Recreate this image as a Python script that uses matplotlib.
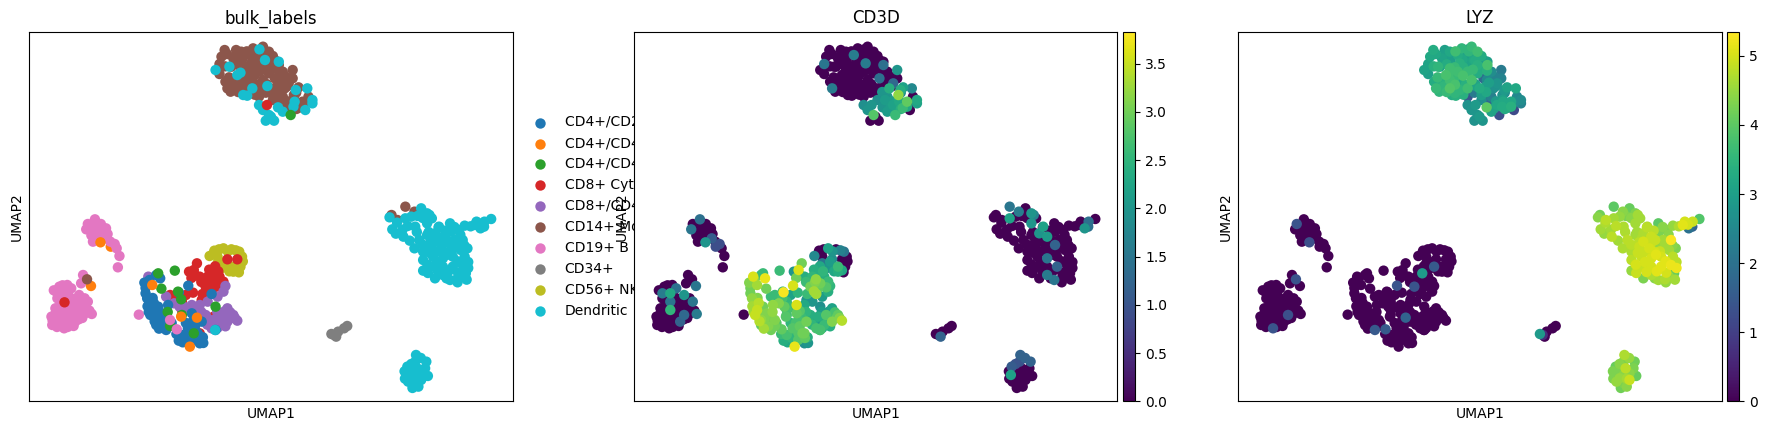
import matplotlib
matplotlib.use("Agg")
import matplotlib.pyplot as plt
import numpy as np
from matplotlib.colors import Normalize

categories = ["CD4+/CD25 T Reg", "CD4+/CD45RA+/CD25- Naive T", "CD4+/CD45RO+ Memory",
              "CD8+ Cytotoxic T", "CD8+/CD45RA+ Naive Cytotoxic", "CD14+ Monocyte",
              "CD19+ B", "CD34+", "CD56+ NK", "Dendritic"]
colors = ["#1f77b4", "#ff7f0e", "#2ca02c", "#d62728", "#9467bd",
          "#8c564b", "#e377c2", "#7f7f7f", "#bcbd22", "#17becf"]
CD3D_MAX = 3.83
LYZ_MAX = 5.35

# Values are read from the picture; UMAP units are relative (no ticks in the source).
under_x = [20.6]
under_y = [46.4]
under_cd3d = [0.9]
under_lyz = [0]

mono_x = [49.4,48.6,48.1,48.1,49.6,50.1,50.9,52.3,53.6,51.6,
          53.8,51.1,53.6,55.6,56.6,59.1,57.6,60.6,61.6,56.1,
          58.6,60.6,63.1,64.1,66.6,66.6,65.6,55.6,58.1,60.6,
          62.1,53.6,51.6,56.1,59.1,62.6,53.6,56.1,58.1,61.1,
          64.6,68.1,58.1,61.6,64.1,61.6,66.9,70.6,69.1,69.1,
          64.8]
mono_y = [105.4,103.4,101.2,98.2,95.9,93.9,92.9,105.4,104.9,102.9,
          102.4,100.4,99.9,103.9,105.9,106.4,103.9,104.9,103.6,101.4,
          101.4,100.9,100.9,98.9,99.4,96.9,95.4,98.9,98.9,98.4,
          96.9,96.4,95.9,96.4,96.4,94.4,93.9,93.4,93.9,93.9,
          93.9,94.2,91.4,91.9,91.4,90.4,91.9,91.4,89.9,88.4,
          87.9]
mono_cd3d = [0,0,1.5,0,0,1.6,0,0,0,0,
             0,0,0,1.6,0,0,0,0,0,0,
             1.6,0,1.4,0,2.0,0,1.3,0,0,0,
             1.4,0,0,0,0,0,0,0,0,0,
             2.4,2.2,0,0,2.0,1.9,3.2,0,2.9,2.3,
             2.1]
mono_lyz = [3.3,3.2,3.1,3.0,3.3,3.6,3.5,3.0,3.2,3.1,
            3.0,3.1,3.7,3.3,3.5,3.6,3.0,3.7,3.3,3.4,
            3.1,3.4,3.8,2.6,2.2,2.4,2.8,3.7,3.6,3.3,
            1.8,3.7,3.4,3.2,3.8,3.0,3.9,3.5,3.7,3.3,
            2.6,3.1,1.4,3.0,2.3,2.6,2.7,2.5,3.2,3.4,
            3.0]

mono2_x = [50.0,49.5,50.5,52.0,52.8,53.0,54.8,55.0,56.8,57.0,
           58.4,59.8,60.0,62.3,63.0,64.8,65.2,54.8,56.9,59.4,
           61.8,63.5,52.0,52.8,54.9,57.6,60.0,62.8,65.3,67.5,
           54.9,57.0,59.8,63.0,63.5,67.0,68.0,70.0,62.0,65.5,
           67.5]
mono2_y = [104.2,100.5,97.2,103.5,101.1,97.6,100.2,105.0,102.6,100.2,
           105.0,103.2,102.3,102.2,99.2,97.4,94.5,97.2,97.7,99.5,
           100.0,95.6,94.5,92.8,95.0,95.0,95.2,92.8,90.0,92.6,
           92.5,92.0,92.6,96.5,90.4,90.5,88.0,89.9,92.8,88.9,
           87.7]
mono2_cd3d = [0,0,0,0,0,0,0,0,0,0,
              0,0,0,0,0,0,0,0,0,0,
              0,0,0,0,0,0,0,2.0,2.1,1.9,
              0,0,0,0,2.1,2.3,2.6,0,0,2.2,
              2.4]
mono2_lyz = [3.2,3.4,3.6,3.0,3.3,3.5,3.6,3.7,3.2,3.4,
             3.5,3.1,3.3,2.9,3.4,2.4,2.7,3.6,3.8,3.6,
             3.3,3.0,3.5,3.6,3.8,3.4,3.0,3.2,2.9,2.6,
             3.5,3.4,2.2,2.5,1.7,3.0,3.1,2.6,3.0,3.2,
             3.3]

topdc_x = [58.2,59.6,63.1,47.1,50.6,52.6,53.4,56.4,60.2,54.1,
           55.1,67.4,70.3,58.1,59.1,60.6,59.8,61.9,61.1,62.9,
           64.1,66.8,67.1,69.8,71.6,71.6]
topdc_y = [105.6,102.4,101.9,99.4,100.4,97.9,98.6,93.9,94.6,91.9,
           91.7,93.4,93.9,88.9,87.4,85.9,84.2,84.2,85.4,88.2,
           86.9,88.4,89.9,87.4,89.4,90.4]
topdc_cd3d = [0,0,0,0,0,0,0,0,0,0,
              0,2.4,1.8,1.9,2.0,2.8,0,0,0,2.0,
              2.1,2.1,2.3,0,2.2,2.3]
topdc_lyz = [2.9,3.2,3.0,3.1,3.5,3.8,3.7,3.2,3.1,3.3,
             3.4,2.9,3.2,2.7,2.8,2.8,2.7,2.8,2.9,4.0,
             3.1,3.3,3.2,1.2,2.4,2.6]

rmono_x = [91.6,93.1,95.1,97.4]
rmono_y = [55.9,54.4,58.4,56.9]
rmono_cd3d = [0,0,1.5,1.6]
rmono_lyz = [4.2,4.8,4.0,4.4]

rdc_x = [91.1,91.8,94.6,95.1,96.6,99.1,100.6,97.6,100.6,103.6,
         106.4,110.1,108.6,113.1,115.1,116.8,114.1,112.6,97.4,98.6,
         100.6,102.6,104.6,106.6,109.6,110.8,99.6,101.6,104.1,106.6,
         109.1,99.6,102.1,104.6,107.1,110.1,99.6,102.6,102.1,104.6,
         107.1,109.6,110.4,104.6,106.4,108.1,109.1,105.6,102.6,107.6]
rdc_y = [55.2,51.6,49.4,54.9,55.4,57.9,56.4,52.4,53.4,52.4,
         53.4,52.7,51.4,53.9,53.9,54.7,51.9,52.9,45.9,48.4,
         49.9,50.4,49.4,50.9,48.4,45.9,44.9,46.4,45.9,46.9,
         45.4,42.4,43.4,42.9,43.4,43.4,39.2,36.9,40.4,40.4,
         40.4,40.9,38.4,37.9,36.4,36.6,37.4,48.4,47.9,48.4]
rdc_cd3d = [0,0,0,2.2,0,0,2.0,0,2.0,2.2,
            0,0,0,0,1.4,0,2.0,0,0,0,
            0,2.0,2.1,0,0,0,0,0,0,1.2,
            0,0,0,1.5,0,0,0,0,0,0,
            1.2,0,0,1.6,1.5,0,0,0,0,0]
rdc_lyz = [4.4,4.6,4.8,4.6,4.5,4.1,4.3,4.7,4.6,4.7,
           4.0,4.5,4.3,5.0,4.9,3.9,2.0,5.1,4.7,4.8,
           4.6,4.7,4.9,4.3,5.3,4.3,4.7,4.9,5.0,4.5,
           4.6,4.8,4.9,5.0,5.0,4.8,4.5,4.3,4.9,5.0,
           5.1,5.2,4.1,4.7,4.6,4.7,4.5,4.9,5.0,4.6]

rdc2_x = [93.0,92.7,95.7,94.4,98.2,99.5,101.8,102.2,105.2,107.5,
          111.6,113.9,96.2,99.5,101.5,103.4,105.6,108.0,110.0,100.7,
          103.0,105.8,108.3,111.0,100.8,103.4,106.0,108.4,111.0,101.2,
          103.4,105.5,108.3,110.6,104.4,106.8,101.0,98.0,103.5,109.0]
rdc2_y = [53.6,50.3,52.6,51.5,55.6,55.0,54.9,48.9,51.2,52.3,
          52.5,53.0,48.2,47.0,47.7,45.0,44.7,47.0,46.8,41.0,
          41.8,44.0,42.0,41.8,38.5,38.8,39.0,38.6,40.0,44.6,
          39.2,36.9,35.7,36.5,47.0,45.0,50.8,50.8,52.2,50.0]
rdc2_cd3d = [0,0,0,0,0,0,0,0,0,0,
             0,0,0,0,0,0,0,0,0,0,
             0,0,0,0,0,0,0,0,0,0,
             0,0,0,0,0,0,0,0,0,0]
rdc2_lyz = [4.7,4.5,4.8,4.6,4.3,4.4,4.6,4.7,4.8,4.4,
            4.7,5.0,4.6,4.8,4.8,4.9,5.0,4.6,4.4,5.0,
            5.0,5.1,5.1,4.8,4.9,5.0,5.1,5.0,5.2,4.9,
            4.9,4.4,4.5,4.6,4.9,4.9,4.6,4.7,4.8,4.4]

lowdc_x = [97.8,97.6,100.4,95.6,98.1,100.1,95.4,97.6,100.8,95.8,97.6,99.1,97.1,99.1,96.6]
lowdc_y = [13.9,11.9,11.9,10.4,9.9,9.9,7.9,7.9,7.6,5.9,5.4,6.4,4.9,8.4,9.4]
lowdc_cd3d = [1.2,1.0,1.2,1.1,0,0,2.2,0,0,0,0,0,0,0,0]
lowdc_lyz = [4.7,4.3,4.2,4.1,4.8,4.3,4.2,4.4,4.1,4.5,4.3,4.9,4.2,4.4,4.3]

lowdc2_x = [96.6,99.0,94.9,98.8,99.6,96.6,98.4,95.0,96.9,98.4]
lowdc2_y = [11.2,13.0,9.0,9.2,7.4,6.9,6.8,6.8,4.0,4.4]
lowdc2_cd3d = [1.0,1.2,0,0,0,0,0,0,0,0]
lowdc2_lyz = [4.4,4.5,4.3,4.2,4.0,4.5,4.6,4.3,4.2,4.4]

cd34_x = [77.1,78.1,79.6,80.4,76.4,77.6]
cd34_y = [19.9,20.9,21.9,22.6,20.2,19.4]
cd34_cd3d = [0,0,0,0,0,1.2]
cd34_lyz = [0.7,0,0,0,2.9,0]

bup_x = [16.6,14.8,14.4,16.6,18.1,19.4,16.6,18.8,16.1,19.6,21.6,22.1,22.8,22.4,
         15.5,17.5,15.7,18.0,19.8,20.5]
bup_y = [54.6,53.2,51.6,52.4,53.2,51.9,50.4,49.9,47.9,48.9,47.2,45.9,43.6,40.2,
         52.6,51.4,49.8,48.6,50.2,47.9]
bup_cd3d = [1.4,0,1.5,0,0,0,0,0,0,1.1,0.9,0,0,0,
            0,0,0,0,0,0]
bup_lyz = [0,1.4,0,0,0,0,0,0,0,0,0,0,0,0,
           0,0,0,0,0,0]

blow_x = [13.6,13.1,7.6,9.6,7.1,9.1,10.6,7.1,9.1,12.6,
          11.1,13.1,14.8,6.6,9.1,11.6,13.6,5.6,7.6,10.1,
          12.6,15.8,14.1,5.8,8.8,7.6,10.1,11.6,27.7]
blow_y = [37.9,35.4,34.4,34.9,32.4,32.4,33.9,30.9,29.9,31.9,
          30.4,29.9,29.9,27.9,27.4,27.9,27.9,25.4,25.9,25.4,
          25.9,26.2,26.4,22.9,21.9,23.6,23.6,23.9,26.0]
blow_cd3d = [0,0,0,0,1.6,2.3,1.4,0,1.5,2.0,
             0,0,1.5,0,2.5,0,0,0,0,0,
             1.3,1.6,0,0,0,0,0,1.2,0]
blow_lyz = [0,0,0,0,0,0,0,0,0,0,
            0,0,0,0,0,0,0,0,0,0,
            1.3,0,0,0,1.4,0,0,0,0]

blow2_x = [8.4,8.2,6.2,7.8,10.2,8.0,10.0,11.7,12.2,14.0,
           15.2,5.9,6.7,8.6,9.0,11.0,12.5,7.0,9.7,11.2,
           13.4,6.3,9.2,12.8]
blow2_y = [34.8,31.2,33.3,28.8,31.3,26.6,28.6,29.2,27.0,30.9,
           27.2,24.2,26.6,26.6,23.0,26.8,24.6,22.3,22.3,22.6,
           25.0,24.0,24.6,28.9]
blow2_cd3d = [0,0,0,0,0,0,0,0,0,0,
              0,0,0,0,0,0,0,0,0,0,
              0,0,0,0]
blow2_lyz = [0,0,0,0,0,0,0,0,0,0,
             0,0,0,0,0,0,0,0,0,0,
             0,0,0,0]

nk_x = [45.6,46.8,49.1,51.1,53.1,53.8,47.6,49.6,51.6,53.4,51.6,49.6,47.6,
        48.0,50.2,52.2,54.0,48.6,50.6,52.6,53.0,46.5]
nk_y = [43.6,45.2,45.9,45.6,44.9,43.4,41.4,41.9,40.4,40.4,38.9,40.4,43.4,
        45.6,45.0,45.3,42.0,39.9,39.0,39.3,38.7,44.2]
nk_cd3d = [1.8,0,2.2,0,1.5,0,1.5,2.1,2.6,0,2.4,2.0,0,
           0,2.0,1.7,0,1.7,2.3,2.3,0,0]
nk_lyz = [0,0,0,0,0,0,0,0,0,0,0,1.5,0,
          0,0,0,0,0,0,0,0,0]

red_x = [42.4,41.6,40.4,43.1,46.6,45.1,48.1,44.6,47.1,49.1,
         46.6,41.4,39.6,35.6,43.6,38.6,46.6,43.1,38.6,50.1,52.6,
         45.5,47.8,45.8,43.5,46.0,48.6,47.0,42.0,41.0,45.5,43.8,37.5]
red_y = [41.4,39.4,38.9,37.4,38.4,37.4,37.4,34.4,35.4,35.9,
         33.9,32.6,31.9,31.9,30.4,27.4,25.4,20.4,29.9,42.6,42.6,
         39.5,39.0,35.8,35.8,36.6,34.2,40.5,37.8,37.0,33.0,32.2,31.0]
red_cd3d = [3.0,3.6,2.0,2.4,2.4,2.5,2.4,3.0,3.0,2.6,
            2.9,2.5,2.2,2.6,2.0,2.7,2.4,3.0,2.5,1.9,0,
            2.4,2.5,3.1,2.6,3.2,2.8,2.3,2.3,3.0,3.3,2.6,2.7]
red_lyz = [0,0,0,0,2.9,0,0,1.4,0,0,
           0,0,0,0,0,0,0,0,0,0,0,
           0,0,0,0,0,0,0,0,0,0,0,0]

purple_x = [49.6,49.1,47.6,45.1,43.1,41.1,34.6,36.6,44.6,46.6,
            48.6,50.1,51.6,52.6,50.1,48.1,46.1,41.6,40.1,41.6,30.1,
            45.5,47.5,49.4,50.8,52.0,48.9,47.2,45.0,49.6,51.2,47.6,43.5,41.9,38.0,39.5]
purple_y = [34.6,32.9,31.4,29.9,28.9,28.9,31.4,29.4,25.9,23.9,
            25.9,27.9,25.9,24.2,23.9,22.9,21.9,24.4,18.4,20.4,37.4,
            24.5,26.9,27.0,26.7,25.0,25.0,24.8,23.0,22.5,25.0,22.0,26.8,27.1,28.4,28.2]
purple_cd3d = [2.5,2.4,2.1,2.0,2.3,3.6,2.6,3.1,2.4,2.0,
               2.8,2.2,2.9,3.4,3.1,2.6,2.7,2.7,2.2,2.8,3.6,
               2.3,2.1,2.1,2.7,3.1,2.5,2.0,2.5,2.4,2.9,2.3,2.5,2.8,2.9,2.6]
purple_lyz = [0,0,0,0,0,0,0,0,0,0,
              0,0,0,0,0,0,0,0,0,0,0,
              0,0,0,0,0,0,0,0,0,0,0,0,0,0,0]

blue_x = [32.1,30.4,29.1,33.1,29.4,30.4,31.1,32.6,30.6,32.6,
          32.1,34.1,34.6,35.1,32.1,33.6,40.2,37.8,46.1,41.1,
          43.6,38.6,38.1,40.1,43.1,42.6,47.1,39.6,
          29.4,29.8,31.2,29.9,31.5,30.2,31.7,33.0,33.9,32.8,
          34.4,36.0,37.8,38.8,39.9,41.5,40.9,39.6,43.2,44.0,
          37.2,41.9,43.9]
blue_y = [37.9,36.4,35.6,36.9,32.4,29.9,27.4,28.4,25.9,25.9,
          22.9,23.9,21.4,28.9,24.4,26.4,34.7,32.7,32.2,26.4,
          23.9,19.9,18.4,21.9,17.4,20.4,21.4,19.4,
          34.0,30.9,31.0,28.5,29.5,26.8,24.0,24.8,22.5,21.8,
          25.3,23.5,18.2,17.7,19.0,18.4,23.5,23.5,19.0,17.5,
          20.2,22.5,19.2]
blue_cd3d = [2.6,3.1,3.1,3.7,3.0,3.0,3.5,3.0,3.5,3.1,
             2.9,3.0,3.0,3.2,3.2,3.1,3.6,3.8,3.3,2.9,
             3.0,2.7,2.2,2.8,1.9,3.0,2.7,2.3,
             3.0,3.2,3.1,3.3,3.4,3.3,3.4,3.1,3.1,3.3,
             3.0,2.8,2.4,2.3,2.5,2.8,2.7,2.5,2.9,2.0,
             2.6,2.9,2.4]
blue_lyz = [0,0,0,0,0,0,0,0,0,0,
            0,0,1.5,0,0,0,1.4,0,0,0,
            0,0,0,0,0,0,0,0,
            0,0,0,0,0,0,0,0,0,0,
            0,0,0,0,0,0,0,0,0,0,
            0,0,0]

green_x = [36.8,32.6,33.4,37.6,38.4,47.1,35.0,38.6,35.6,41.6,66.1]
green_y = [39.2,38.4,33.8,32.9,30.6,28.4,26.8,25.9,22.6,20.4,85.9]
green_cd3d = [2.6,2.6,3.0,2.6,2.2,1.9,3.2,2.6,3.0,2.6,2.6]
green_lyz = [0,0,0,0,0,0,0,0,0,0,1.3]

orange_x = [31.1,42.4,40.6,38.4,15.6,18.0]
orange_y = [34.9,25.1,16.4,25.4,34.6,47.7]
orange_cd3d = [3.3,2.6,3.7,2.8,1.5,2.0]
orange_lyz = [0,1.7,0,0,0,1.3]

pinkt_x = [35.6,37.3]
pinkt_y = [24.4,21.6]
pinkt_cd3d = [3.1,2.9]
pinkt_lyz = [0,1.5]

other_x = [47.0,14.6,8.9,60.1,101.2,115.0]
other_y = [21.4,36.6,29.7,88.9,55.9,52.4]
other_label = [9,5,3,3,9,9]
other_cd3d = [2.7,0,0,2.0,1.7,1.4]
other_lyz = [0,1.4,0,2.9,4.6,1.7]

groups = [
    (under_x, under_y, 1, under_cd3d, under_lyz),
    (mono2_x, mono2_y, 5, mono2_cd3d, mono2_lyz),
    (mono_x, mono_y, 5, mono_cd3d, mono_lyz),
    (topdc_x, topdc_y, 9, topdc_cd3d, topdc_lyz),
    (rmono_x, rmono_y, 5, rmono_cd3d, rmono_lyz),
    (rdc2_x, rdc2_y, 9, rdc2_cd3d, rdc2_lyz),
    (rdc_x, rdc_y, 9, rdc_cd3d, rdc_lyz),
    (lowdc2_x, lowdc2_y, 9, lowdc2_cd3d, lowdc2_lyz),
    (lowdc_x, lowdc_y, 9, lowdc_cd3d, lowdc_lyz),
    (cd34_x, cd34_y, 7, cd34_cd3d, cd34_lyz),
    (bup_x, bup_y, 6, bup_cd3d, bup_lyz),
    (blow2_x, blow2_y, 6, blow2_cd3d, blow2_lyz),
    (blow_x, blow_y, 6, blow_cd3d, blow_lyz),
    (nk_x, nk_y, 8, nk_cd3d, nk_lyz),
    (red_x, red_y, 3, red_cd3d, red_lyz),
    (purple_x, purple_y, 4, purple_cd3d, purple_lyz),
    (blue_x, blue_y, 0, blue_cd3d, blue_lyz),
    (green_x, green_y, 2, green_cd3d, green_lyz),
    (orange_x, orange_y, 1, orange_cd3d, orange_lyz),
    (pinkt_x, pinkt_y, 6, pinkt_cd3d, pinkt_lyz),
    (other_x, other_y, other_label, other_cd3d, other_lyz),
]

umap1, umap2, label, cd3d, lyz = [], [], [], [], []
for gx, gy, gl, gc, gz in groups:
    assert len(gx) == len(gy) == len(gc) == len(gz), (gx[:2], len(gx), len(gy), len(gc), len(gz))
    umap1 += gx
    umap2 += gy
    label += gl if isinstance(gl, list) else [gl] * len(gx)
    cd3d += gc
    lyz += gz
umap1, umap2, label, cd3d, lyz = map(np.array, (umap1, umap2, label, cd3d, lyz))

W, H = 1767, 430
fig = plt.figure(figsize=(W / 100, H / 100), dpi=100)


def add_axes(left, right, top=31.7, bottom=401.3):
    return fig.add_axes([left / W, 1 - bottom / H, (right - left) / W, (bottom - top) / H])


def style(ax, title):
    ax.set_xlim(0, 122.4)
    ax.set_ylim(0, 110.9)
    ax.set_xticks([])
    ax.set_yticks([])
    ax.set_xlabel("UMAP1", fontsize=10)
    ax.set_ylabel("UMAP2", fontsize=10)
    ax.set_title(title, fontsize=12)


S = 56
ax1 = add_axes(29.3, 513.3)
ax1.scatter(umap1, umap2, c=[colors[i] for i in label], s=S, linewidths=0)
for name, col in zip(categories, colors):
    ax1.scatter([], [], c=col, s=S, linewidths=0, label=name)
style(ax1, "bulk_labels")
ax1.legend(loc="center left", bbox_to_anchor=(1, 0.5), frameon=False, fontsize=10)

for (left, right, cl, cr, vals, vmax, title) in [
    (634.4, 1117.4, 1122.8, 1135.4, cd3d, CD3D_MAX, "CD3D"),
    (1238.3, 1721.5, 1726.6, 1739.2, lyz, LYZ_MAX, "LYZ"),
]:
    ax = add_axes(left, right)
    order = np.argsort(vals, kind="stable")
    sc = ax.scatter(umap1[order], umap2[order], c=vals[order], cmap="viridis",
                    norm=Normalize(0, vmax), s=S, linewidths=0)
    style(ax, title)
    cax = add_axes(cl, cr)
    fig.colorbar(sc, cax=cax)
    cax.tick_params(labelsize=10)

fig.savefig("out.png", dpi=100)
